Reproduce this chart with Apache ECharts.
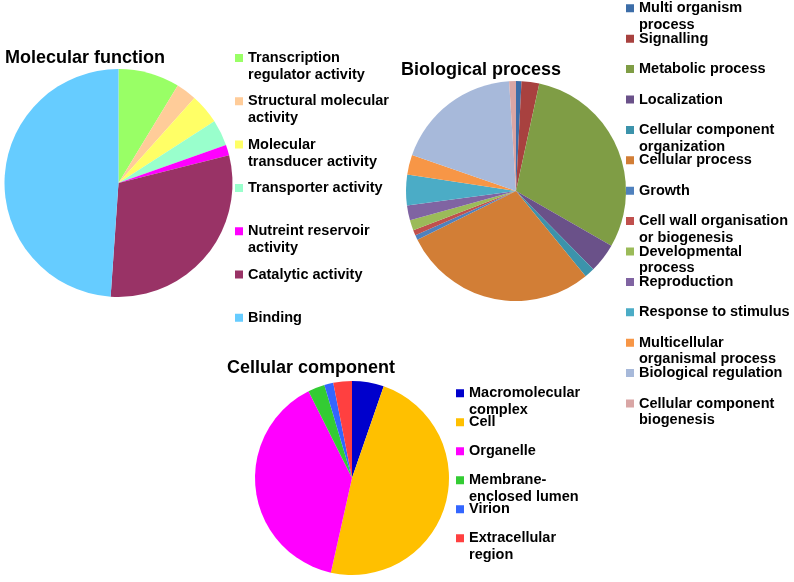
<!DOCTYPE html>
<html>
<head>
<meta charset="utf-8">
<title>GO categories</title>
<script src="https://cdn.jsdelivr.net/npm/echarts@6/dist/echarts.min.js"></script>
<style>
    html, body { margin: 0; padding: 0; background: #fff; }
    #main { width: 794px; height: 582px; }
</style>
</head>
<body>
<div id="main"></div>
<script>
// Molecular function
var mfNames = ['Transcription regulator activity', 'Structural molecular activity', 'Molecular transducer activity',
    'Transporter activity', 'Nutreint reservoir activity', 'Catalytic activity', 'Binding'];
var mfLines = ['Transcription\nregulator activity', 'Structural molecular\nactivity', 'Molecular\ntransducer activity',
    'Transporter activity', 'Nutreint reservoir\nactivity', 'Catalytic activity', 'Binding'];
var mfValues = [8.7, 2.9, 4.3, 3.7, 1.5, 30.0, 48.9];
var mfColors = ['#99FF66', '#FFCC99', '#FFFF66', '#99FFCC', '#FF00FF', '#993366', '#66CCFF'];

// Biological process
var bpNames = ['Multi organism process', 'Signalling', 'Metabolic process', 'Localization',
    'Cellular component organization', 'Cellular process', 'Growth', 'Cell wall organisation or biogenesis',
    'Developmental process', 'Reproduction', 'Response to stimulus', 'Multicellular organismal process',
    'Biological regulation', 'Cellular component biogenesis'];
var bpLines = ['Multi organism\nprocess', 'Signalling', 'Metabolic process', 'Localization',
    'Cellular component\norganization', 'Cellular process', 'Growth', 'Cell wall organisation\nor biogenesis',
    'Developmental\nprocess', 'Reproduction', 'Response to stimulus', 'Multicellular\norganismal process',
    'Biological regulation', 'Cellular component\nbiogenesis'];
var bpValues = [0.8, 2.6, 29.9, 4.3, 1.5, 28.6, 0.7, 0.8, 1.5, 2.2, 4.5, 2.9, 18.7, 1.0];
var bpColors = ['#3C6DA8', '#A8413F', '#7F9D45', '#6A5189', '#3C93AB', '#D27E36', '#4F81BD',
    '#C0504D', '#9BBB59', '#8064A2', '#4BACC6', '#F79646', '#A7B9DA', '#D9A6A5'];

// Cellular component
var ccNames = ['Macromolecular complex', 'Cell', 'Organelle', 'Membrane-enclosed lumen', 'Virion', 'Extracellular region'];
var ccLines = ['Macromolecular\ncomplex', 'Cell', 'Organelle', 'Membrane-\nenclosed lumen', 'Virion', 'Extracellular\nregion'];
var ccValues = [5.3, 48.2, 39.1, 2.8, 1.5, 3.1];
var ccColors = ['#0000CC', '#FFC000', '#FF00FF', '#33CC33', '#3366FF', '#FF4040'];

var FONT = '"Liberation Sans", Arial, sans-serif';

var myChart = echarts.init(document.getElementById('main'), null, {renderer: 'canvas'});

// name -> legend text, every entry two lines so the square sits on the first one (like Excel)
var legendText = {};
function addLines(names, lines) {
    for (var i = 0; i < names.length; i++) {
        legendText[names[i]] = lines[i].indexOf('\n') >= 0 ? lines[i] : lines[i] + '\n ';
    }
}
addLines(mfNames, mfLines);
addLines(bpNames, bpLines);
addLines(ccNames, ccLines);

// square icon at the top of a two-line box
function topSquare(lh) {
    var h = lh * 2;
    var a = lh / 2 - 4;
    return 'path://M0,0h8v0.01h-8z M0,' + a + 'h8v8h-8z M0,' + (h - 0.01) + 'h8v0.01h-8z';
}

function pieData(names, values, colors) {
    var data = [];
    for (var i = 0; i < names.length; i++) {
        data.push({name: names[i], value: values[i], itemStyle: {color: colors[i]}});
    }
    return data;
}

function makeLegend(names, left, top, lh, gap) {
    return {
        data: names,
        orient: 'vertical',
        left: left,
        top: top,
        padding: 0,
        itemGap: gap,
        itemWidth: 8,
        itemHeight: lh * 2,
        icon: topSquare(lh),
        selectedMode: false,
        itemStyle: {borderWidth: 0},
        formatter: function (name) {
            return legendText[name];
        },
        textStyle: {
            fontFamily: FONT,
            fontSize: 14.5,
            fontWeight: 'bold',
            color: '#000',
            lineHeight: lh
        }
    };
}

function makePie(data, center, radius) {
    return {
        type: 'pie',
        center: center,
        radius: radius,
        startAngle: 90,
        clockwise: true,
        avoidLabelOverlap: false,
        label: {show: false},
        labelLine: {show: false},
        emphasis: {disabled: true},
        itemStyle: {borderWidth: 0},
        data: data
    };
}

var titleStyle = {fontFamily: FONT, fontSize: 18, fontWeight: 'bold', color: '#000'};

myChart.setOption({
    animation: false,
    backgroundColor: '#fff',
    title: [
        {text: 'Molecular function', left: 5, top: 49, padding: 0, textStyle: titleStyle},
        {text: 'Biological process', left: 401, top: 61, padding: 0, textStyle: titleStyle},
        {text: 'Cellular component', left: 227, top: 359, padding: 0, textStyle: titleStyle}
    ],
    legend: [
        makeLegend(mfNames, 235, 49.5, 17, 9.3),
        makeLegend(bpNames, 626, 0, 16.6, -2.8),
        makeLegend(ccNames, 456, 385.2, 16.3, -3.6)
    ],
    series: [
        makePie(pieData(mfNames, mfValues, mfColors), [118.5, 183], 114),
        makePie(pieData(bpNames, bpValues, bpColors), [516, 191], 110),
        makePie(pieData(ccNames, ccValues, ccColors), [352, 478], 97)
    ]
});
</script>
</body>
</html>
